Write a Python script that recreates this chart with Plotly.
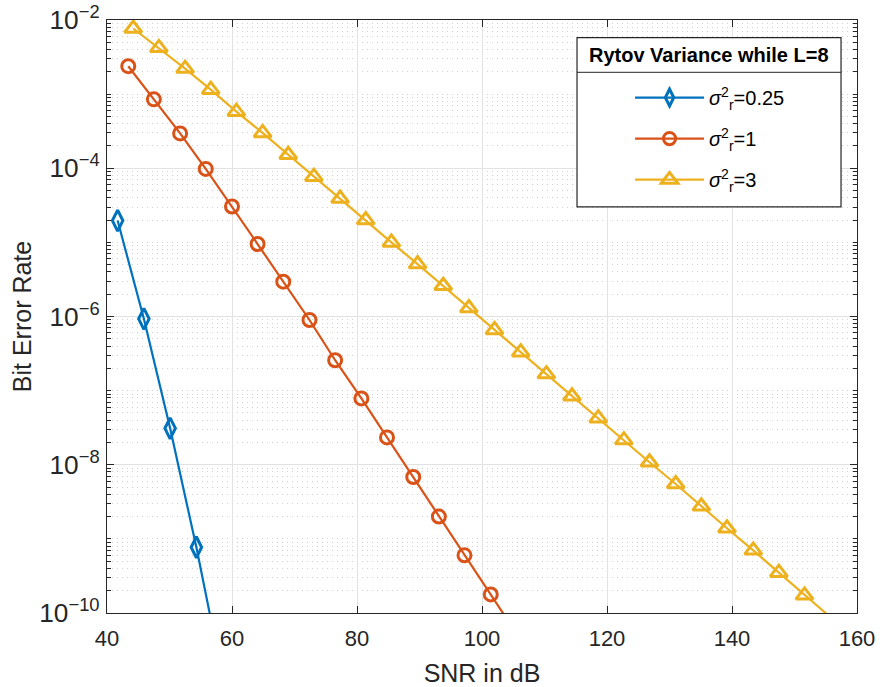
import plotly.graph_objects as go

# ---- data ----
snr_025 = [41.7, 45.9, 50.1, 54.3, 58.5]
ber_025 = [1.97e-5, 9.3e-7, 3.1e-8, 7.7e-10, 1.35e-11]

snr_1 = [43.4, 47.5, 51.7, 55.8, 60.0, 64.1, 68.2, 72.4, 76.5, 80.7, 84.8, 89.0,
         93.1, 97.2, 101.4, 105.5]
ber_1 = [2.38e-3, 8.5e-4, 2.95e-4, 9.8e-5, 3.05e-5, 9.5e-6, 2.95e-6, 8.97e-7,
         2.57e-7, 7.85e-8, 2.34e-8, 6.84e-9, 2.0e-9, 6.0e-10, 1.78e-10, 5.3e-11]

snr_3 = [44.2, 48.3, 52.5, 56.6, 60.7, 64.9, 69.0, 73.1, 77.3, 81.4, 85.5, 89.7,
         93.8, 97.9, 102.0, 106.2, 110.3, 114.4, 118.6, 122.7, 126.8, 131.0,
         135.1, 139.2, 143.4, 147.5, 151.6, 155.8]
ber_3 = [7.68e-3, 4.21e-3, 2.21e-3, 1.15e-3, 5.8e-4, 3.0e-4, 1.52e-4, 7.7e-5,
         3.9e-5, 2.0e-5, 1.0e-5, 5.1e-6, 2.6e-6, 1.3e-6, 6.6e-7, 3.3e-7, 1.67e-7,
         8.4e-8, 4.25e-8, 2.15e-8, 1.08e-8, 5.5e-9, 2.75e-9, 1.39e-9, 7.0e-10,
         3.5e-10, 1.73e-10, 8.7e-11]

labels = ["<i>σ</i><sup>2</sup><sub>r</sub>=0.25",
          "<i>σ</i><sup>2</sup><sub>r</sub>=1",
          "<i>σ</i><sup>2</sup><sub>r</sub>=3"]
legend_title = "Rytov Variance while L=8"
x_title = "SNR in dB"
y_title = "Bit Error Rate"

FONT = "Liberation Sans, Arial, sans-serif"
AX = "#262626"
colors = ["#0072BD", "#D95319", "#EDB120"]
symbols = ["diamond-tall-open", "circle-open", "triangle-up-open"]
msize = [15, 13, 15]

fig = go.Figure()
for i, (xs, ys) in enumerate([(snr_025, ber_025), (snr_1, ber_1), (snr_3, ber_3)]):
    # last point lies below the axis: it only extends the line to the frame
    sizes = [msize[i]] * (len(xs) - 1) + [0]
    fig.add_trace(go.Scatter(
        x=xs, y=ys, mode="lines+markers", name=labels[i],
        legendgroup="g%d" % i,
        line=dict(color=colors[i], width=2.2),
        marker=dict(symbol=symbols[i], size=sizes, color=colors[i], opacity=1,
                    line=dict(color=colors[i], width=3)),
        cliponaxis=True,
    ))

fig.update_xaxes(
    range=[40, 160], dtick=20, tick0=40, automargin=False,
    showline=True, linecolor=AX, linewidth=1.4, mirror="ticks",
    ticks="inside", ticklen=7, tickwidth=1.4, tickcolor=AX,
    showgrid=True, gridcolor="#e2e2e2", gridwidth=1,
    zeroline=False, ticklabelstandoff=5, ticklabeloverflow="allow",
    tickfont=dict(family=FONT, size=22, color=AX),
    title=dict(text=x_title, font=dict(family=FONT, size=25, color=AX), standoff=16),
)
fig.update_yaxes(
    type="log", range=[-10, -2], dtick=2, tick0=0, exponentformat="power",
    automargin=False,
    showline=True, linecolor=AX, linewidth=1.4, mirror="ticks",
    ticks="inside", ticklen=7, tickwidth=1.4, tickcolor=AX,
    showgrid=True, gridcolor="#e2e2e2", gridwidth=1,
    zeroline=False, ticklabelstandoff=2, ticklabeloverflow="allow",
    minor=dict(dtick="D1", ticks="inside", ticklen=4, tickcolor=AX, tickwidth=1,
               showgrid=True, gridcolor="#cfcfcf", griddash="1px,4px", gridwidth=1),
    tickfont=dict(family=FONT, size=21, color=AX),
    title=dict(text=y_title, font=dict(family=FONT, size=25, color=AX), standoff=0),
)

# legend frame (paper coords of the plot area)
L, R, T, B, SEP = 0.6267, 0.9787, 0.9704, 0.685, 0.9118
fig.add_shape(type="rect", xref="paper", yref="paper", x0=L, x1=R, y0=B, y1=T,
              fillcolor="white", line=dict(color=AX, width=1.2), layer="above")
fig.add_shape(type="line", xref="paper", yref="paper", x0=L, x1=R, y0=SEP, y1=SEP,
              line=dict(color=AX, width=1), layer="above")
fig.add_annotation(xref="paper", yref="paper", x=(L + R) / 2, y=(T + SEP) / 2,
                   text="<b>%s</b>" % legend_title, showarrow=False,
                   font=dict(family=FONT, size=20, color="#000000"),
                   xanchor="center", yanchor="middle")

fig.update_layout(
    width=882, height=687,
    margin=dict(l=107, r=25, t=20, b=74, autoexpand=False),
    paper_bgcolor="white", plot_bgcolor="white",
    showlegend=True,
    legend=dict(x=0.6974, y=0.902, xanchor="left", yanchor="top",
                bgcolor="rgba(0,0,0,0)", borderwidth=0,
                font=dict(family=FONT, size=20, color="#000000"),
                itemwidth=69, traceorder="grouped", tracegroupgap=12),
)

fig.write_html("out.html")
